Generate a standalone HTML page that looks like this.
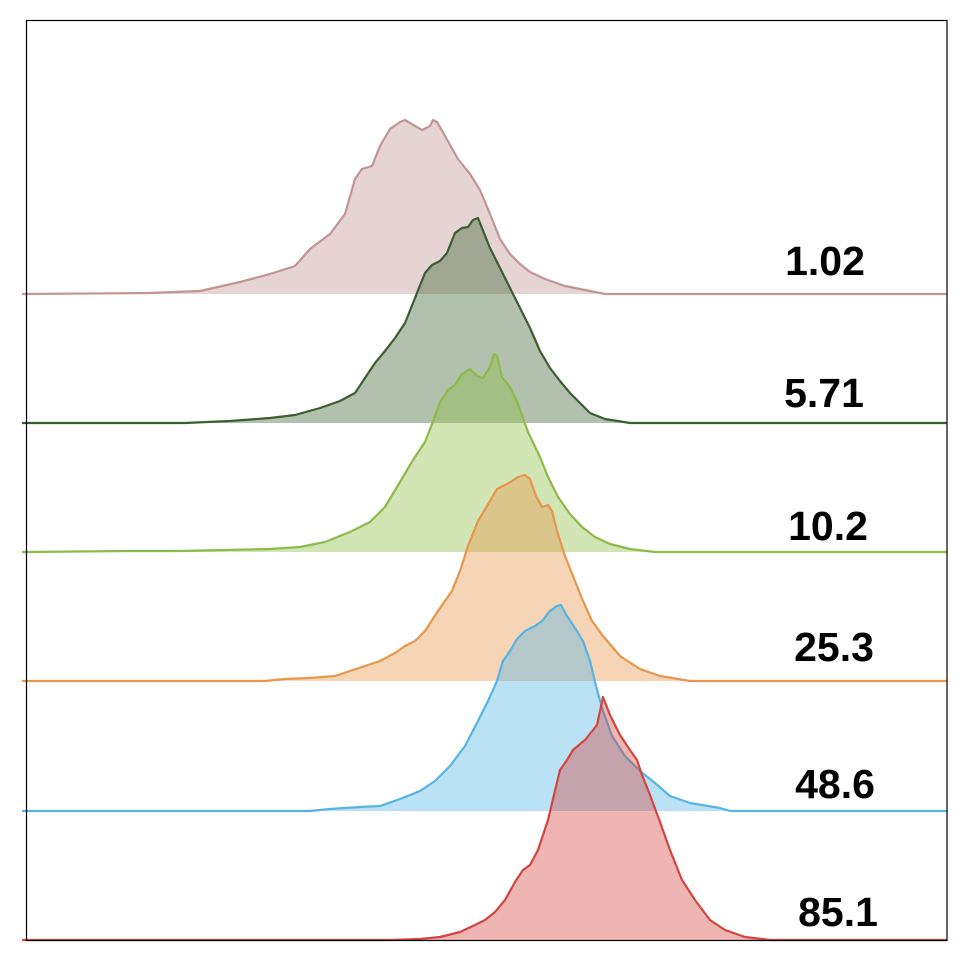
<!DOCTYPE html>
<html><head><meta charset="utf-8"><style>
html,body{margin:0;padding:0;background:#fff;}
svg{display:block;}
</style></head><body>
<svg id="chart" width="972" height="964" viewBox="0 0 972 964" xmlns="http://www.w3.org/2000/svg">
<rect x="0" y="0" width="972" height="964" fill="#fff"/>
<g id="series"></g>
<rect x="26.5" y="20.5" width="920.5" height="920" fill="none" stroke="#000" stroke-width="1.2"/>
<g id="labels" font-family="'Liberation Sans', Arial, sans-serif" font-weight="bold" font-size="41" fill="#000"></g>
</svg>
<script>
const categories = ["1.02","5.71","10.2","25.3","48.6","85.1"];
const xDomain = [26, 947];
const x1 = [26,150,200,240,270,295,310,330,345,355,362,372,380,390,400,405,415,422,430,433,437,445,458,470,480,490,500,510,520,530,545,565,590,605,947];
const y1 = [0,1,3,12,20,28,45,60,80,115,125,128,148,165,172,174,168,164,168,174,172,158,135,120,104,80,55,40,30,22,15,8,3,0,0];
const x2 = [26,185,230,270,295,320,340,355,365,375,385,395,405,415,425,432,440,447,455,462,468,473,478,482,490,500,510,520,530,540,550,560,570,580,590,605,630,947];
const y2 = [0,0,2,5,8,15,22,30,45,60,72,85,100,125,150,158,162,170,190,195,196,203,205,195,175,155,135,115,95,72,55,42,30,20,10,4,0,0];
const x3 = [26,130,180,225,270,300,325,350,370,385,400,413,425,432,440,448,455,462,470,477,483,490,494,497,502,510,518,528,540,548,558,570,582,595,610,630,655,947];
const y3 = [0,1,1,2,3,5,10,20,30,45,70,92,110,128,150,162,167,178,183,176,174,185,198,196,175,165,148,120,95,75,55,38,25,15,8,3,0,0];
const x4 = [26,265,285,310,335,350,365,380,395,405,415,425,438,445,452,460,468,478,490,497,505,512,518,525,530,536,542,548,552,557,565,575,583,592,603,620,640,660,690,947];
const y4 = [0,0,2,3,5,10,15,20,28,35,40,50,70,80,90,110,135,160,180,192,196,200,204,206,202,185,174,176,170,150,125,100,80,60,45,25,12,5,0,0];
const x5 = [26,310,330,360,380,400,420,435,450,465,478,488,497,503,510,517,525,535,542,550,557,561,567,575,583,590,596,603,612,625,640,655,670,690,720,730,947];
const y5 = [0,0,2,4,5,12,20,30,45,65,90,110,130,150,160,172,180,185,190,200,205,206,195,183,170,150,125,100,75,55,40,28,15,8,3,0,0];
const x6 = [26,390,420,440,460,475,485,495,505,515,523,530,538,548,560,567,573,585,597,603,610,620,630,637,642,650,660,670,682,695,710,725,745,770,947];
const y6 = [0,0,1,3,8,15,20,28,40,58,70,75,90,120,170,180,190,200,215,243,225,205,190,180,165,145,118,90,60,40,20,10,3,0,0];
const seriesX = [x1,x2,x3,x4,x5,x6];
const seriesY = [y1,y2,y3,y4,y5,y6];
const baselines = [294,423,552,681,811,940];
const strokes = ["#c29494","#3b5e30","#8cbb4a","#e8964b","#56b4e4","#d4453f"];
const fills = ["rgba(200,160,162,0.45)","rgba(60,100,50,0.4)","rgba(140,190,70,0.4)","rgba(232,150,75,0.4)","rgba(86,180,228,0.4)","rgba(212,70,64,0.4)"];
const labelX = [825,824,828,834,835,838];
const labelDy = [-19,-16,-12,-20,-13,-14];

const NS = "http://www.w3.org/2000/svg";
function xs(v){ return 26 + (v - xDomain[0]) / (xDomain[1]-xDomain[0]) * 921; }
function ys(v, b){ return b - v; }
const g = document.getElementById('series');
const lg = document.getElementById('labels');
for (let i=0;i<categories.length;i++){
  const X = seriesX[i], Y = seriesY[i], b = baselines[i];
  let d = "M"+xs(X[0])+","+ys(Y[0],b);
  for (let j=1;j<X.length;j++) d += " L"+xs(X[j]).toFixed(1)+","+ys(Y[j],b).toFixed(1);
  const area = document.createElementNS(NS,'path');
  area.setAttribute('d', d + " L"+xs(X[X.length-1])+","+b+" L"+xs(X[0])+","+b+" Z");
  area.setAttribute('fill', fills[i]);
  
  
  g.appendChild(area);
  const line = document.createElementNS(NS,'path');
  line.setAttribute('d', "M22,"+b+" L"+xs(X[0])+","+b+" "+d.replace(/^M/," L"));
  line.setAttribute('fill','none');
  line.setAttribute('stroke', strokes[i]);
  line.setAttribute('stroke-width','2.2');
  line.setAttribute('stroke-linejoin','round');
  
  
  g.appendChild(line);
  const t = document.createElementNS(NS,'text');
  t.setAttribute('x', labelX[i]);
  t.setAttribute('y', b + labelDy[i]);
  t.setAttribute('text-anchor','middle');
  t.textContent = categories[i];
  
  
  lg.appendChild(t);
}
</script>
</body></html>
